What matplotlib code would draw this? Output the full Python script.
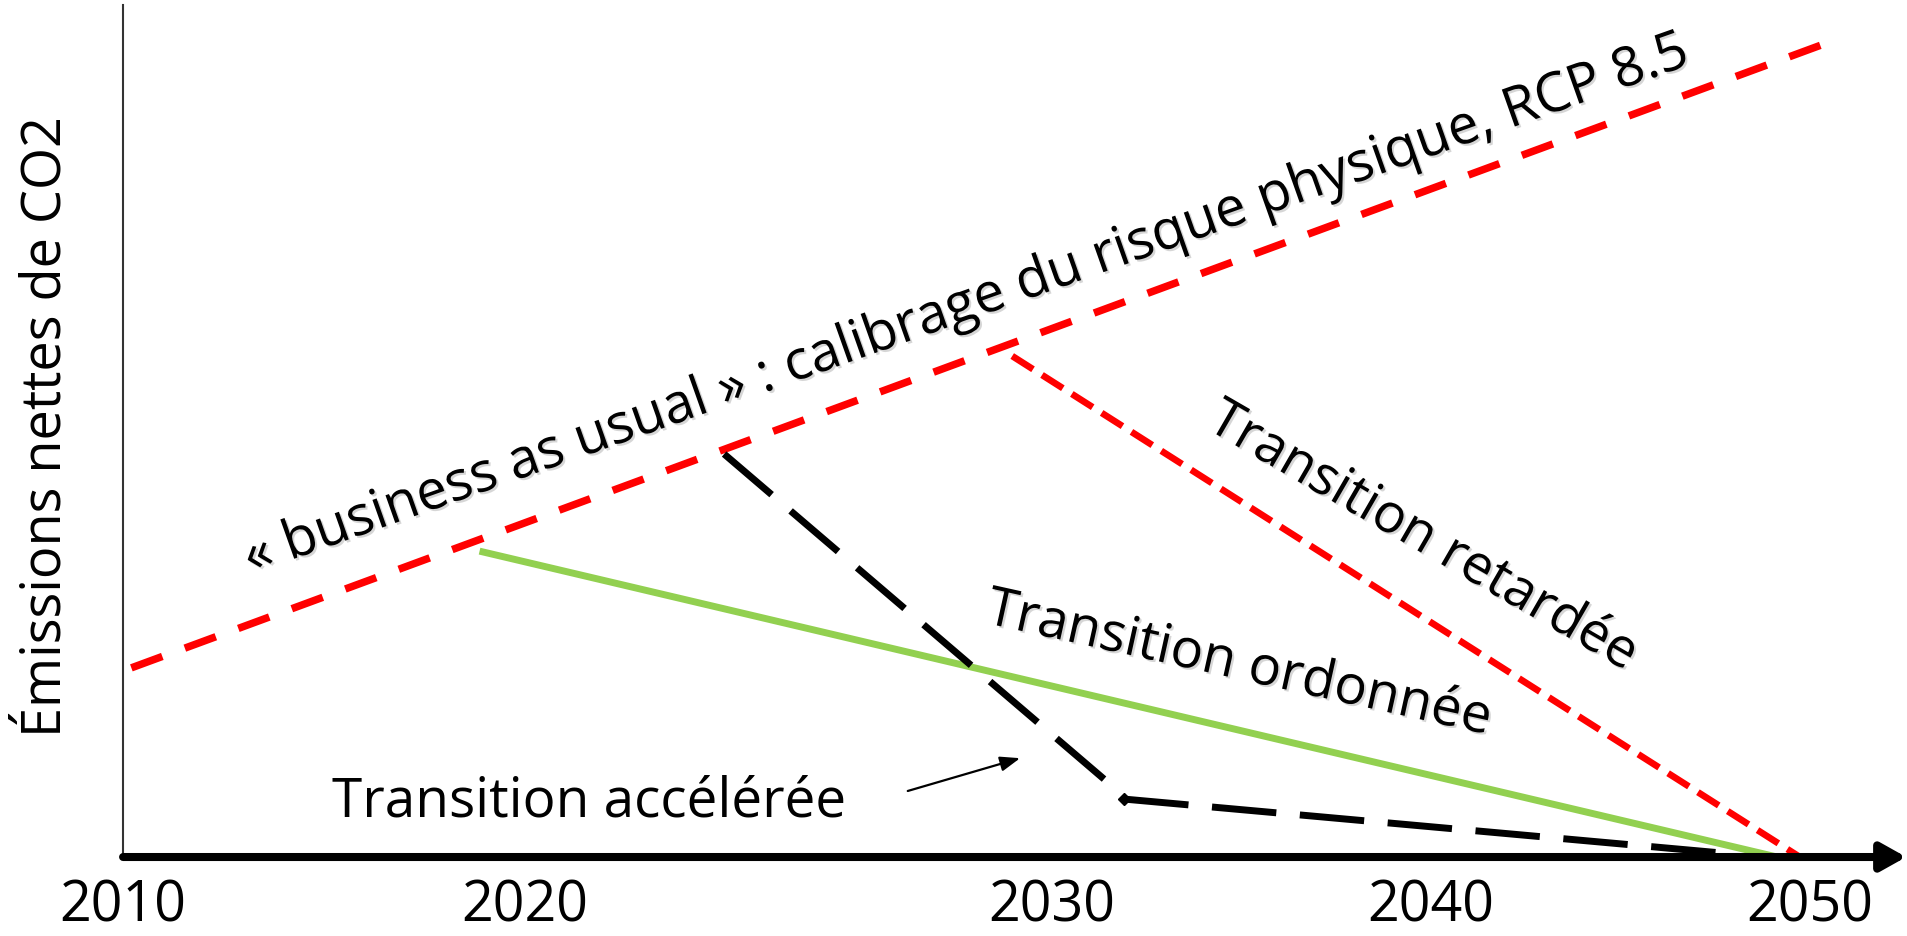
import matplotlib
matplotlib.use('Agg')
import matplotlib.pyplot as plt
import matplotlib.patheffects as pe

plt.rcParams['font.family'] = ['Open Sans', 'DejaVu Sans']

# schematic: x in years, y = net CO2 emissions (arbitrary 0-100 units)
bau_x = [2010.0, 2051.1]
bau_y = [22.2, 95.9]

ordered_x = [2018.4, 2049.7]
ordered_y = [35.9, 0.0]

delayed_x = [2031.25, 2050.25]
delayed_y = [58.8, 0.0]

# accelerated transition is drawn in two pieces
fast_x1 = [2024.3, 2033.5]
fast_y1 = [47.3, 9.0]
fast_x2 = [2033.95, 2048.3]
fast_y2 = [6.8, 0.5]

tick_labels = ['2010', '2020', '2030', '2040', '2050']
tick_pos = [2009.8, 2019.5, 2032.2, 2041.35, 2050.5]


def main():
    fig = plt.figure(figsize=(19.08, 9.37), dpi=100)
    ax = fig.add_axes([0.0645, 0.0843, 0.9355, 0.9093])
    ax.set_xlim(2010, 2052.86)
    ax.set_ylim(0, 100)

    red = '#ff0000'
    green = '#92d050'

    ax.plot(bau_x, bau_y, color=red, lw=5.4, dashes=(4.4, 3.2),
            dash_capstyle='butt', zorder=2)
    ax.plot(delayed_x, delayed_y, color=red, lw=4.8, dashes=(3.7, 1.6),
            dash_capstyle='butt', zorder=2)
    ax.plot(ordered_x, ordered_y, color=green, lw=5.0,
            solid_capstyle='butt', zorder=2)
    ax.plot(fast_x1, fast_y1, color='k', lw=5.0, dashes=(9.0, 3.6),
            dash_capstyle='butt', zorder=2)
    ax.plot(fast_x2, fast_y2, color='k', lw=5.0, dashes=(9.3, 3.4),
            dash_capstyle='butt', zorder=2)
    ax.plot(fast_x2[0], fast_y2[0], marker='D', ms=6, color='k', zorder=2)

    # axes: thin left line, thick arrow for time axis
    for s in ['top', 'right', 'bottom']:
        ax.spines[s].set_visible(False)
    ax.spines['left'].set_linewidth(1.5)
    ax.spines['left'].set_color('#333333')

    ax.annotate('', xy=(0.999, 0), xycoords='axes fraction', xytext=(0, 0),
                arrowprops=dict(arrowstyle='-|>,head_length=0.5,head_width=0.28',
                                lw=5.8, color='k', shrinkA=0, shrinkB=0,
                                mutation_scale=30),
                zorder=4, annotation_clip=False)

    ax.set_yticks([])
    ax.set_xticks(tick_pos)
    ax.set_xticklabels(tick_labels)
    ax.tick_params(axis='x', length=0, pad=15, labelsize=40)

    ax.set_ylabel('Émissions nettes de CO2', fontsize=39, va='center')
    ax.yaxis.set_label_coords(-0.043, 0.507)

    shadow = [pe.withSimplePatchShadow(offset=(1.5, -1.5),
                                       shadow_rgbFace='0.55', alpha=0.35)]

    ax.text(2012.88, 33.2,
            '« business as usual » : calibrage du risque physique, RCP 8.5',
            rotation=19.5, rotation_mode='anchor', ha='left', va='baseline',
            fontsize=39.5, path_effects=shadow)
    ax.text(2030.58, 27.5, 'Transition ordonnée', rotation=-12.5,
            rotation_mode='anchor', ha='left', va='baseline',
            fontsize=39, path_effects=shadow)
    ax.text(2035.91, 50.35, 'Transition retardée', rotation=-30,
            rotation_mode='anchor', ha='left', va='baseline',
            fontsize=39, path_effects=shadow)
    ax.text(2014.85, 4.93, 'Transition accélérée', ha='left', va='baseline',
            fontsize=39.5)

    ax.annotate('', xy=(2031.44, 11.6), xytext=(2028.73, 7.75),
                arrowprops=dict(arrowstyle='-|>,head_length=0.8,head_width=0.3',
                                lw=1.6, color='k', shrinkA=0, shrinkB=0,
                                mutation_scale=15))

    fig.savefig('out.png', dpi=100)


if __name__ == '__main__':
    main()
